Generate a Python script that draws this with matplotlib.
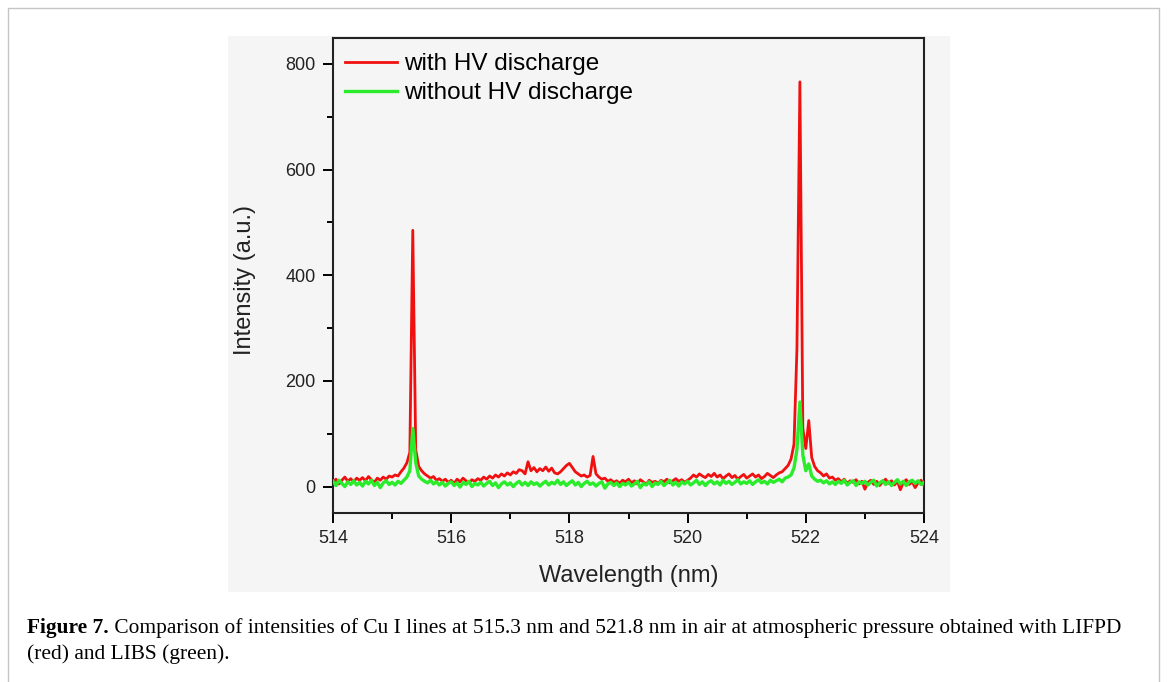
import numpy as np
import matplotlib
matplotlib.use("Agg")
import matplotlib.pyplot as plt
from matplotlib.patches import Rectangle

# Wavelength grid (nm), 0.05 nm step from 514 to 524
wavelength = np.round(np.arange(514.0, 524.0001, 0.05), 2)

# with HV discharge (LIFPD)
red_intensity = [
    8, 14, 5, 12, 18, 10, 15, 9, 16, 12,
    17, 11, 19, 13, 8, 16, 12, 18, 14, 20,
    18, 22, 20, 28, 35, 45, 65, 485, 70, 38,
    30, 24, 20, 16, 19, 12, 15, 10, 14, 8,
    12, 6, 14, 9, 16, 11, 7, 13, 10, 15,
    12, 18, 14, 20, 16, 22, 18, 24, 20, 26,
    22, 28, 25, 32, 30, 24, 47, 30, 36, 28,
    34, 30, 37, 29, 35, 26, 24, 28, 34, 40,
    44, 36, 28, 24, 20, 22, 18, 21, 57, 24,
    18, 14, 16, 10, 13, 8, 11, 6, 12, 9,
    14, 7, 11, 5, 13, 9, 4, 12, 8, 10,
    6, 12, 9, 14, 7, 11, 15, 10, 13, 8,
    12, 16, 22, 18, 24, 20, 17, 23, 19, 25,
    18, 22, 15, 20, 24, 17, 21, 14, 19, 23,
    16, 20, 24, 18, 22, 15, 19, 25, 21, 17,
    22, 26, 28, 34, 40, 52, 80, 260, 766, 110,
    72, 125, 55, 38, 30, 26, 20, 24, 16, 18,
    12, 15, 9, 14, 6, 11, 8, 13, 5, 10,
    -5, 8, 12, 4, 10, 2, 9, 14, 6, 11,
    3, 10, -6, 8, 13, 4, 9, -2, 7, 12,
    2,
]

# without HV discharge (LIBS)
green_intensity = [
    10, 2, 12, 6, 0, 9, 4, 11, 3, 8,
    1, 10, 5, 12, 2, 8, -2, 7, 11, 4,
    8, 3, 10, 6, 12, 18, 30, 110, 45, 20,
    14, 10, 7, 12, 5, 9, 3, 8, 1, 6,
    9, 2, 7, -1, 8, 4, 10, 0, 6, 3,
    8, 1, 6, 10, 2, 7, -2, 5, 9, 3,
    7, 0, 6, 10, 3, 8, 2, 9, 4, 7,
    1, 6, 10, 3, 8, 5, 12, 4, 9, 2,
    7, 11, 3, 8, 0, 6, 10, 4, 7, 1,
    6, 9, -3, 5, 8, 2, 7, 0, 6, 3,
    8, 1, 5, 10, -2, 6, 3, 9, 0, 7,
    4, 10, 2, 7, 12, 3, 8, 1, 9, 5,
    10, 3, 7, 12, 4, 9, 2, 8, 11, 5,
    9, 3, 12, 6, 10, 4, 8, 13, 5, 9,
    6, 11, 4, 9, 13, 7, 10, 5, 12, 8,
    11, 14, 9, 16, 18, 22, 35, 70, 160, 60,
    30, 43, 20, 14, 10, 12, 7, 11, 5, 9,
    4, 10, 6, 12, 3, 8, 11, 2, 9, 6,
    10, 3, 8, 12, 1, 7, 11, 4, 9, 2,
    8, 13, 5, 10, 2, 9, 12, 6, 11, 4,
    8,
]

series_labels = ['with HV discharge', 'without HV discharge']
caption_bold = 'Figure 7.'
caption_line1 = (' Comparison of intensities of Cu I lines at 515.3 nm and 521.8 nm '
                 'in air at atmospheric pressure obtained with LIFPD')
caption_line2 = '(red) and LIBS (green).'

W, H = 1167, 682
fig = plt.figure(figsize=(W / 100, H / 100), dpi=100)
fig.patch.set_facecolor('white')

# outer frame of the page figure
fig.patches.append(Rectangle((8 / W, -0.05), (1159 - 8) / W, 1.05 - 8 / H,
                             transform=fig.transFigure, fill=False,
                             edgecolor='#c4c4c4', linewidth=1.0, zorder=-2))
# light grey background of the chart image
fig.patches.append(Rectangle((228 / W, 1 - 592 / H), (950 - 228) / W, (592 - 36) / H,
                             transform=fig.transFigure, facecolor='#f5f5f5',
                             edgecolor='none', zorder=-1))

ax = fig.add_axes([333 / W, 1 - 513 / H, 591 / W, 475 / H])
ax.patch.set_alpha(0)

ax.plot(wavelength, red_intensity, color='#f01010', linewidth=2.0, label=series_labels[0], zorder=3)
ax.plot(wavelength, green_intensity, color='#2aec2a', linewidth=2.4, label=series_labels[1], zorder=4)

ax.set_xlim(514, 524)
ax.set_ylim(-50, 849)
ax.set_xticks(np.arange(514, 524.1, 2))
ax.set_xticks(np.arange(515, 524, 2), minor=True)
ax.set_yticks(np.arange(0, 801, 200))
ax.set_yticks(np.arange(100, 801, 200), minor=True)

font = 'Liberation Sans'
ax.tick_params(axis='both', which='major', direction='out', length=7.5, width=1.4,
               labelsize=13, pad=5, top=False, right=False)
ax.tick_params(axis='both', which='minor', direction='out', length=4.5, width=1.4,
               top=False, right=False)
for lab in ax.get_xticklabels() + ax.get_yticklabels():
    lab.set_fontfamily(font)
    lab.set_color('#222222')
for sp in ax.spines.values():
    sp.set_linewidth(1.5)
    sp.set_color('#222222')

ax.set_xlabel('Wavelength (nm)', fontsize=17, family=font, color='#222222', labelpad=13)
ax.set_ylabel('Intensity (a.u.)', fontsize=17, family=font, color='#222222')
ax.yaxis.set_label_coords(-0.131, 0.49)

ax.legend(loc='upper left', bbox_to_anchor=(0.0, 0.994), frameon=False,
          prop={'family': font, 'size': 17.5}, handlelength=2.15, handletextpad=0.28,
          labelspacing=0.3, borderaxespad=0.1)

# caption: bold "Figure 7." followed by regular text
serif = 'Liberation Serif'
cap_size = 15.4
y1 = 1 - 633 / H
y2 = 1 - 659 / H
t_bold = fig.text(27 / W, y1, caption_bold, fontsize=cap_size, family=serif,
                  weight='bold', va='baseline', ha='left')
fig.canvas.draw()
bb = t_bold.get_window_extent(renderer=fig.canvas.get_renderer())
fig.text(bb.x1 / W, y1, caption_line1, fontsize=cap_size, family=serif,
         va='baseline', ha='left')
fig.text(27 / W, y2, caption_line2, fontsize=cap_size, family=serif,
         va='baseline', ha='left')

fig.savefig('out.png', dpi=100, facecolor='white')
